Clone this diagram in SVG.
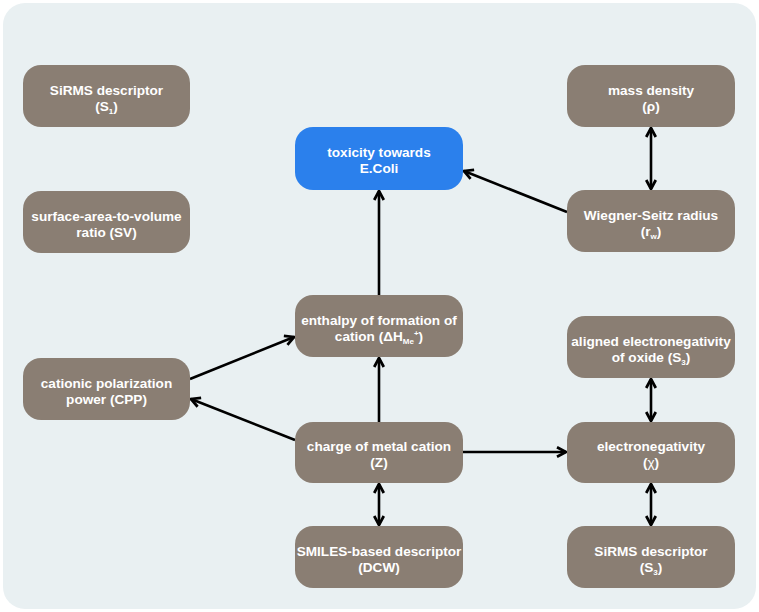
<svg xmlns="http://www.w3.org/2000/svg" width="759" height="612" viewBox="0 0 759 612">
<defs>
<marker id="ah" viewBox="0 0 10 10" refX="9" refY="5" markerWidth="12" markerHeight="12" markerUnits="userSpaceOnUse" orient="auto-start-reverse">
<path d="M1.5,1 L9,5 L1.5,9" fill="none" stroke="#000" stroke-width="2.3" stroke-linejoin="miter"/>
</marker>
<style>
.n{fill:#8a7e73}
.b{fill:#2b80ec}
.t{font-family:"Liberation Sans",Arial,sans-serif;font-weight:bold;font-size:13.6px;fill:#fff;text-anchor:middle}
.s{font-size:8px}
.c{fill:none;stroke:#000;stroke-width:2.6}
</style>
</defs>
<rect x="0" y="0" width="759" height="612" fill="#fff"/>
<rect x="3" y="3" width="753" height="606" rx="22" fill="#e9f0f2"/>

<g id="connectors">
<line class="c" x1="651" y1="128" x2="651" y2="189" marker-start="url(#ah)" marker-end="url(#ah)"/>
<line class="c" x1="567" y1="212" x2="464" y2="171" marker-end="url(#ah)"/>
<line class="c" x1="379" y1="295" x2="379" y2="191" marker-end="url(#ah)"/>
<line class="c" x1="379" y1="422" x2="379" y2="358" marker-end="url(#ah)"/>
<line class="c" x1="190" y1="379" x2="294" y2="337" marker-end="url(#ah)"/>
<line class="c" x1="295" y1="440" x2="191" y2="399" marker-end="url(#ah)"/>
<line class="c" x1="463" y1="452" x2="566" y2="452" marker-end="url(#ah)"/>
<line class="c" x1="651" y1="379" x2="651" y2="421" marker-start="url(#ah)" marker-end="url(#ah)"/>
<line class="c" x1="651" y1="484" x2="651" y2="525" marker-start="url(#ah)" marker-end="url(#ah)"/>
<line class="c" x1="379" y1="484" x2="379" y2="525" marker-start="url(#ah)" marker-end="url(#ah)"/>
</g>

<g id="sirms1">
<rect class="n" x="23" y="65" width="167" height="62" rx="18"/>
<text class="t" x="106.5" y="95">SiRMS descriptor</text>
<text class="t" x="106.5" y="111">(S<tspan class="s" dy="3">1</tspan><tspan dy="-3">)</tspan></text>
</g>

<g id="sv">
<rect class="n" x="23" y="191" width="167" height="62" rx="18"/>
<text class="t" x="106.5" y="221">surface-area-to-volume</text>
<text class="t" x="106.5" y="237">ratio (SV)</text>
</g>

<g id="cpp">
<rect class="n" x="23" y="358" width="167" height="62" rx="18"/>
<text class="t" x="106.5" y="388">cationic polarization</text>
<text class="t" x="106.5" y="404">power (CPP)</text>
</g>

<g id="toxicity">
<rect class="b" x="295" y="127" width="168" height="63" rx="18"/>
<text class="t" x="379" y="157">toxicity towards</text>
<text class="t" x="379" y="173">E.Coli</text>
</g>

<g id="enthalpy">
<rect class="n" x="295" y="295" width="168" height="62" rx="18"/>
<text class="t" x="379" y="325">enthalpy of formation of</text>
<text class="t" x="379" y="341">cation (ΔH<tspan class="s" dy="3">Me</tspan><tspan class="s" dy="-8">+</tspan><tspan dy="5">)</tspan></text>
</g>

<g id="charge">
<rect class="n" x="295" y="422" width="168" height="61" rx="18"/>
<text class="t" x="379" y="451">charge of metal cation</text>
<text class="t" x="379" y="467">(Z)</text>
</g>

<g id="smiles">
<rect class="n" x="295" y="526" width="168" height="62" rx="18"/>
<text class="t" x="379" y="556">SMILES-based descriptor</text>
<text class="t" x="379" y="572">(DCW)</text>
</g>

<g id="density">
<rect class="n" x="567" y="65" width="168" height="62" rx="18"/>
<text class="t" x="651" y="95">mass density</text>
<text class="t" x="651" y="111">(ρ)</text>
</g>

<g id="wigner">
<rect class="n" x="567" y="190" width="168" height="62" rx="18"/>
<text class="t" x="651" y="220">Wiegner-Seitz radius</text>
<text class="t" x="651" y="236">(r<tspan class="s" dy="3">w</tspan><tspan dy="-3">)</tspan></text>
</g>

<g id="aligned">
<rect class="n" x="567" y="316" width="168" height="62" rx="18"/>
<text class="t" x="651" y="346">aligned electronegativity</text>
<text class="t" x="651" y="362">of oxide (S<tspan class="s" dy="3">3</tspan><tspan dy="-3">)</tspan></text>
</g>

<g id="electronegativity">
<rect class="n" x="567" y="422" width="168" height="61" rx="18"/>
<text class="t" x="651" y="451">electronegativity</text>
<text class="t" x="651" y="467">(<tspan font-weight="normal">χ</tspan>)</text>
</g>

<g id="sirms3">
<rect class="n" x="567" y="526" width="168" height="62" rx="18"/>
<text class="t" x="651" y="556">SiRMS descriptor</text>
<text class="t" x="651" y="572">(S<tspan class="s" dy="3">3</tspan><tspan dy="-3">)</tspan></text>
</g>
</svg>
